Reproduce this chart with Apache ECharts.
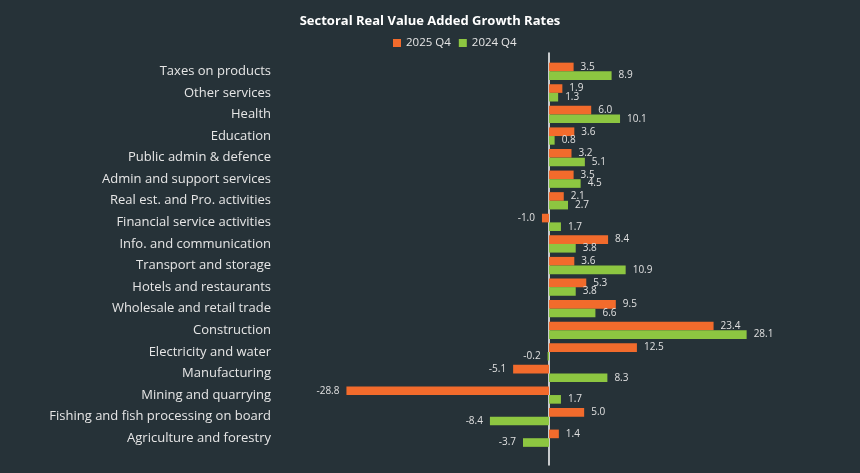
<!DOCTYPE html>
<html>
<head>
<meta charset="utf-8">
<script src="https://cdn.jsdelivr.net/npm/echarts@6/dist/echarts.min.js"></script>
<style>
  html, body { margin: 0; padding: 0; background: #263238; }
  #chart { width: 860px; height: 473px; }
</style>
</head>
<body>
<div id="chart"></div>
<script>
var sectors = [
  "Taxes on products",
  "Other services",
  "Health",
  "Education",
  "Public admin & defence",
  "Admin and support services",
  "Real est. and Pro. activities",
  "Financial service activities",
  "Info. and communication",
  "Transport and storage",
  "Hotels and restaurants",
  "Wholesale and retail trade",
  "Construction",
  "Electricity and water",
  "Manufacturing",
  "Mining and quarrying",
  "Fishing and fish processing on board",
  "Agriculture and forestry"
];
var q4_2025 = [3.5, 1.9, 6.0, 3.6, 3.2, 3.5, 2.1, -1.0, 8.4, 3.6, 5.3, 9.5, 23.4, 12.5, -5.1, -28.8, 5.0, 1.4];
var q4_2024 = [8.9, 1.3, 10.1, 0.8, 5.1, 4.5, 2.7, 1.7, 3.8, 10.9, 3.8, 6.6, 28.1, -0.2, 8.3, 1.7, -8.4, -3.7];

var chart = echarts.init(document.getElementById("chart"));
var font = "Open Sans";

function withLabels(values) {
  // negative bars get their label on the left
  return values.map(function (v) {
    return {
      value: v,
      label: { position: v < 0 ? "left" : "right" }
    };
  });
}

var option = {
  backgroundColor: "#263238",
  animation: false,
  title: {
    text: "Sectoral Real Value Added Growth Rates",
    left: "center",
    top: 10,
    textStyle: { color: "#ffffff", fontSize: 13, fontWeight: "bold", fontFamily: font }
  },
  legend: {
    top: 32,
    left: 388,
    itemWidth: 8,
    itemHeight: 8,
    itemGap: 8,
    icon: "rect",
    textStyle: { color: "#e6e6e6", fontSize: 11.5, fontFamily: font },
    data: ["2025 Q4", "2024 Q4"]
  },
  grid: [
    { left: 338, right: 100, top: 60.5, bottom: 24 },
    { left: 338, right: 100, top: 53, bottom: 8 }
  ],
  xAxis: [
    {
      type: "value", min: -30, max: 30, gridIndex: 0,
      axisLine: { show: false }, axisTick: { show: false },
      axisLabel: { show: false }, splitLine: { show: false }
    },
    {
      type: "value", min: -30, max: 30, gridIndex: 1,
      axisLine: { show: false }, axisTick: { show: false },
      axisLabel: { show: false }, splitLine: { show: false }
    }
  ],
  yAxis: [
    {
      type: "category", gridIndex: 0, inverse: true, data: sectors,
      axisLine: { show: false }, axisTick: { show: false },
      axisLabel: { color: "#e6e6e6", fontSize: 13, fontFamily: font, margin: 67 }
    },
    {
      type: "category", gridIndex: 1, data: [],
      axisLine: { show: true, onZero: true, lineStyle: { color: "#ffffff", width: 1.5 } },
      axisTick: { show: false }, axisLabel: { show: false }
    }
  ],
  series: [
    {
      name: "2025 Q4", type: "bar", xAxisIndex: 0, yAxisIndex: 0,
      data: withLabels(q4_2025),
      itemStyle: { color: "#f26b2c" },
      barGap: "0%", barCategoryGap: "20%",
      label: { show: true, distance: 7, color: "#e0e0e0", fontSize: 10, fontFamily: font,
        formatter: function (p) { return p.value.toFixed(1); } }
    },
    {
      name: "2024 Q4", type: "bar", xAxisIndex: 0, yAxisIndex: 0,
      data: withLabels(q4_2024),
      itemStyle: { color: "#8dc641" },
      barGap: "0%", barCategoryGap: "20%",
      label: { show: true, distance: 7, color: "#e0e0e0", fontSize: 10, fontFamily: font,
        formatter: function (p) { return p.value.toFixed(1); } }
    }
  ]
};

option && chart.setOption(option);
</script>
</body>
</html>
